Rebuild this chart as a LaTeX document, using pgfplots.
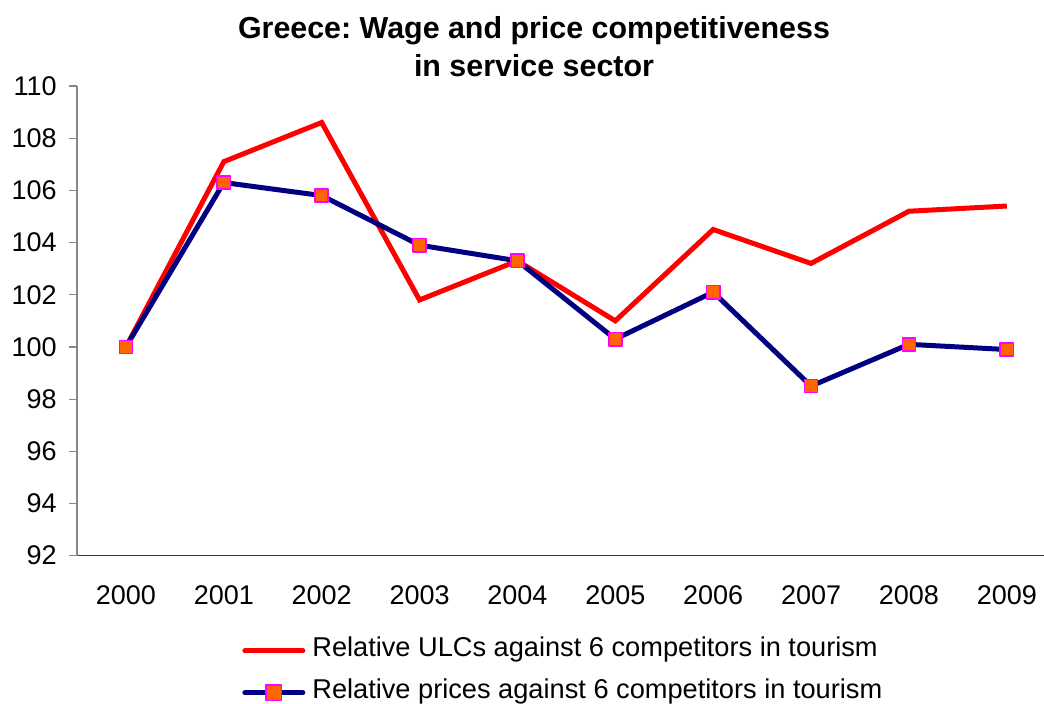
\documentclass[border=0pt]{standalone}
\usepackage{fontspec}
\setmainfont{Liberation Sans}
\usepackage{pgfplots}
\usepackage{pgfplotstable}
\pgfplotsset{compat=1.18}
\frenchspacing

\definecolor{ulcred}{HTML}{FF0000}
\definecolor{navy}{HTML}{000080}
\definecolor{mkfill}{HTML}{FF6600}
\definecolor{mkdraw}{HTML}{FF00FF}
\definecolor{axgray}{HTML}{868686}

% x = category index (2000 -> 0)
\pgfplotstableread{
x ulc price
0 100.0 100.0
1 107.1 106.3
2 108.6 105.8
3 101.8 103.9
4 103.3 103.3
5 101.0 100.3
6 104.5 102.1
7 103.2 98.5
8 105.2 100.1
9 105.4 99.9
}\greecedata

\begin{document}
\begin{tikzpicture}
\begin{axis}[
    at={(0,0)}, anchor=south west,
    scale only axis, width=483.5pt, height=234.85pt,
    xmin=-0.5, xmax=9.38,
    ymin=92, ymax=110,
    ytick={92,94,...,110},
    xtick={0,...,9},
    xticklabels={2000,2001,2002,2003,2004,2005,2006,2007,2008,2009},
    extra x ticks={0.5,1.5,...,8.5},
    extra x tick labels={},
    extra x tick style={major tick length=4pt, tick style={draw=axgray, line width=0.6pt}},
    axis x line*=bottom, axis y line*=left,
    x axis line style={-, draw=black!80, line width=0.6pt},
    y axis line style={-, draw=axgray, line width=0.6pt},
    x tick style={draw=none},
    y tick style={draw=axgray, line width=0.6pt},
    tick align=outside, major tick length=4pt,
    ytick pos=left,
    /pgf/number format/assume math mode=true,
    ticklabel style={font=\fontsize{13.5}{15}\selectfont},
    yticklabel style={anchor=east, inner sep=0pt, xshift=-6pt},
    xticklabel style={anchor=base, inner sep=0pt, yshift=-20.3pt},
    clip=false,
    legend style={draw=none, fill=none, at={(0.1706,-0.1815)}, anchor=north west,
        inner sep=0pt, row sep=11.5pt, column sep=3.5pt,
        font=\fontsize{13.6}{15}\selectfont,
        nodes={inner sep=0pt, text height=7.5pt, text depth=2pt}},
    legend cell align=left,
    legend image code/.code={
        \draw[mark repeat=2, mark phase=2, line cap=round, every mark/.append style={scale=1.15}, #1]
            plot coordinates {(0pt,0pt) (14.5pt,0pt) (29pt,0pt)};
    },
]
\addplot[ulcred, line width=2.5pt, no markers, line join=miter] table[x=x, y=ulc] {\greecedata};
\addlegendentry{Relative ULCs against 6 competitors in tourism}
\addplot[navy, line width=2.5pt, line join=round, mark=square*,
    mark size=3.3pt, mark options={fill=mkfill, draw=mkdraw, line width=0.8pt}]
    table[x=x, y=price] {\greecedata};
\addlegendentry{Relative prices against 6 competitors in tourism}

\node[font=\bfseries\fontsize{15.2}{19}\selectfont, align=center, anchor=south, inner sep=0pt]
    at (rel axis cs:0.4726,1) [yshift=4.25pt] {Greece: Wage and price competitiveness\\in service sector};
\end{axis}
\pgfresetboundingbox
\path[use as bounding box] (-38.5pt,-74.15pt) rectangle (483.5pt,277.85pt);
\end{tikzpicture}
\end{document}
